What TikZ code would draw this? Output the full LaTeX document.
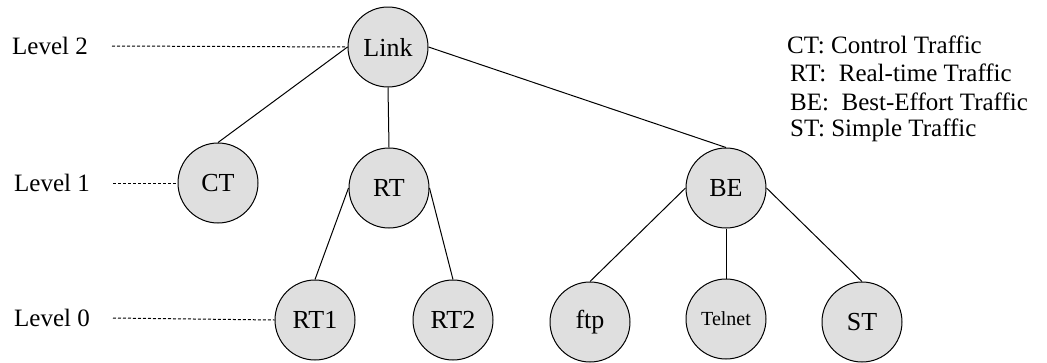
\documentclass[tikz,border=0pt]{standalone}
\usepackage{fontspec}
\setmainfont{LiberationSerif-Regular.ttf}
\definecolor{nodefill}{RGB}{223,223,223}
\begin{document}
\begin{tikzpicture}[x=1pt,y=-1pt,
  tnode/.style={circle,draw=black,line width=1pt,fill=nodefill,
    minimum size=80pt,inner sep=0pt,font=\fontsize{26}{28}\selectfont},
  small/.style={font=\fontsize{20}{24}\selectfont},
  edge/.style={line width=1pt},
  levelline/.style={line width=1pt,dash pattern=on 3pt off 2pt},
  lvl/.style={anchor=west,inner sep=0pt,font=\fontsize{25}{28}\selectfont},
  legend/.style={anchor=west,inner sep=0pt,font=\fontsize{25}{28}\selectfont}]
\useasboundingbox (0,0) rectangle (1047,362);

% tree nodes
\node[tnode] (link) at (388,47) {Link};
\node[tnode] (ct) at (218,183) {CT};
\node[tnode] (rt) at (389,188) {RT};
\node[tnode] (be) at (726,188) {BE};
\node[tnode] (rt1) at (315,320) {RT1};
\node[tnode] (rt2) at (453,320) {RT2};
\node[tnode] (ftp) at (590,322) {ftp};
\node[tnode,small] (telnet) at (726,319) {Telnet};
\node[tnode] (st) at (862,322) {ST};

% branches
\draw[edge] (link.west) -- (ct.north);
\draw[edge] (link.south) -- (rt.north);
\draw[edge] (link.east) -- (be.north);
\draw[edge] (rt.west) -- (rt1.north);
\draw[edge] (rt.east) -- (rt2.north);
\draw[edge] (be.west) -- (ftp.north);
\draw[edge] (be.south) -- (telnet.north);
\draw[edge] (be.east) -- (st.north);

% level markers
\node[lvl] (lv2) at (12,46) {Level 2};
\node[lvl] (lv1) at (14,183) {Level 1};
\node[lvl] (lv0) at (14,318) {Level 0};
\coordinate (d2) at (112,46);
\coordinate (d1) at (113,183);
\coordinate (d0) at (113,318);
\draw[levelline] (d2) -- (link.west);
\draw[levelline] (d1) -- (ct.west);
\draw[levelline] (d0) -- (rt1.west);

% legend
\node[legend] (lg1) at (787,45) {CT: Control Traffic};
\node[legend] (lg2) at (790,73) {RT:\ \ Real-time Traffic};
\node[legend] (lg3) at (790,102) {BE:\ \ Best-Effort Traffic};
\node[legend] (lg4) at (790,130) {ST: Simple Traffic};
\end{tikzpicture}
\end{document}
